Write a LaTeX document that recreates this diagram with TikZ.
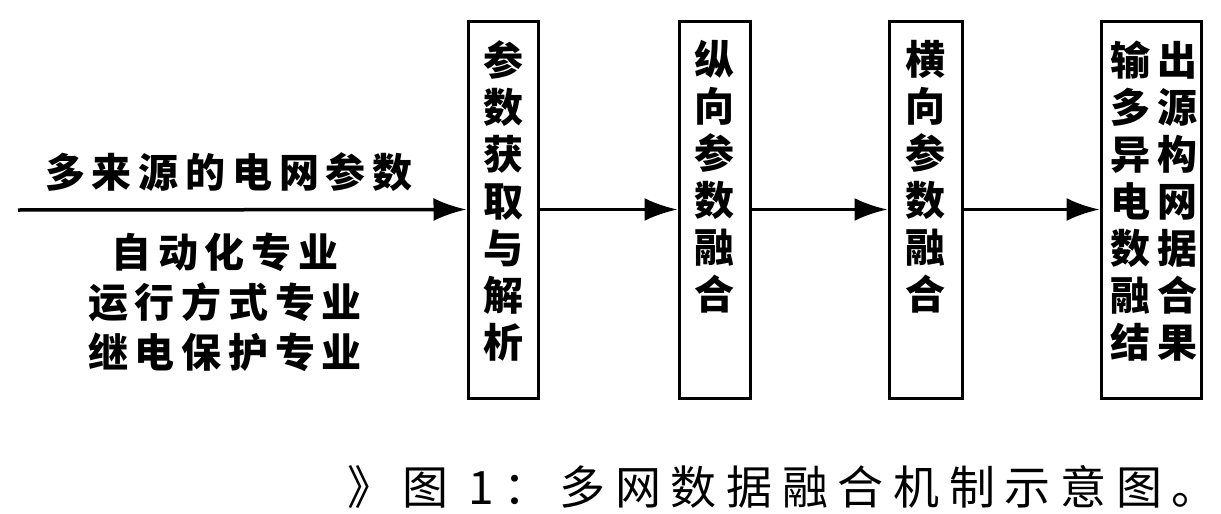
\documentclass[tikz,border=0pt]{standalone}
\usepackage{fontspec}
\newfontfamily\cjk[LetterSpace=17]{Noto Sans CJK SC}
\newfontfamily\cjkcap[LetterSpace=21]{Noto Sans CJK SC}
\usetikzlibrary{arrows.meta}
\begin{document}
\begin{tikzpicture}[x=1pt,y=-1pt,
  box/.style={draw, line width=3pt, minimum height=377pt, inner sep=0pt},
  conn/.style={line width=3.5pt, -{Latex[length=33pt,width=23pt]}},
  vtext/.style={font=\cjk\bfseries\fontsize{40}{47}\selectfont, align=center, inner sep=0pt, anchor=north},
  ltext/.style={font=\cjk\bfseries\fontsize{40}{50}\selectfont, align=center, inner sep=0pt},
  captext/.style={font=\cjkcap\fontsize{46}{50}\selectfont, inner sep=0pt, anchor=base west}]
\fill[white] (0,0) rectangle (1221,514);
\useasboundingbox (0,0) rectangle (1221,514);
\node[box, minimum width=70pt] (b1) at (503,209.5) {};
\node[box, minimum width=71pt] (b2) at (714.5,209.5) {};
\node[box, minimum width=73pt] (b3) at (925.5,209.5) {};
\node[box, minimum width=100pt] (b4) at (1151,209.5) {};
\node[vtext] (t1) at (503,40) {参\\数\\获\\取\\与\\解\\析};
\node[vtext] (t2) at (714.5,40) {纵\\向\\参\\数\\融\\合};
\node[vtext] (t3) at (925.5,40) {横\\向\\参\\数\\融\\合};
\node[vtext] (t4) at (1154,41) {输出\\多源\\异构\\电网\\数据\\融合\\结果};
\coordinate (in) at (18,210);
\draw[conn] (in) -- (b1.west);
\draw[conn] (b1.east) -- (b2.west);
\draw[conn] (b2.east) -- (b3.west);
\draw[conn] (b3.east) -- (b4.west);
\node[ltext] (src) at (229,172) {多来源的电网参数};
\node[ltext] (prof) at (225,302) {自动化专业\\运行方式专业\\继电保护专业};
\node[captext] (cap) at (347,504) {》图 1：多网数据融合机制示意图。};
\end{tikzpicture}
\end{document}
